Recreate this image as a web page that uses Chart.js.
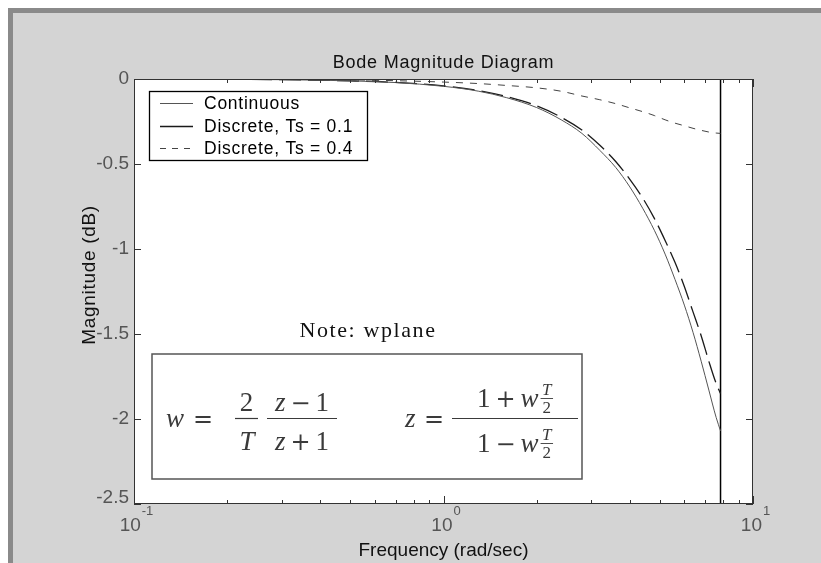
<!DOCTYPE html>
<html><head><meta charset="utf-8">
<script src="https://cdn.jsdelivr.net/npm/chart.js@4/dist/chart.umd.min.js"></script>
<style>html,body{margin:0;padding:0;background:#fff;overflow:hidden}canvas{display:block}</style>
</head><body>
<canvas id="c" width="821" height="563"></canvas>
<script>
// ---- data ----
const freq = [0.1, 0.2, 0.3, 0.5, 0.7, 1.0, 1.3, 1.6, 2.0, 2.4, 2.8, 3.2, 3.6, 4.0, 4.4, 4.8, 5.2, 5.6, 6.0, 6.4, 6.8, 7.2, 7.6, 7.854];
const magContinuous = [0, -0.002, -0.004, -0.011, -0.021, -0.043, -0.072, -0.11, -0.168, -0.24, -0.32, -0.42, -0.52, -0.635, -0.76, -0.89, -1.03, -1.18, -1.33, -1.49, -1.66, -1.83, -1.99, -2.07];
const magTs01 = [0, -0.002, -0.004, -0.011, -0.02, -0.041, -0.068, -0.104, -0.158, -0.225, -0.30, -0.39, -0.485, -0.59, -0.70, -0.82, -0.95, -1.08, -1.22, -1.37, -1.51, -1.66, -1.79, -1.85];
const magTs04 = [0, -0.001, -0.002, -0.005, -0.01, -0.018, -0.027, -0.038, -0.052, -0.072, -0.10, -0.122, -0.145, -0.17, -0.192, -0.215, -0.24, -0.26, -0.275, -0.29, -0.302, -0.312, -0.318, -0.32];
const nyquist = 7.854;
const seriesNames = ['Continuous', 'Discrete, Ts = 0.1', 'Discrete, Ts = 0.4'];
const yTicks = [0, -0.5, -1, -1.5, -2, -2.5];
const yTickLabels = ['0', '-0.5', '-1', '-1.5', '-2', '-2.5'];
const xMajor = [0.1, 1, 10];
const xMajorExp = ['-1', '0', '1'];
const titleText = 'Bode Magnitude Diagram';
const xTitle = 'Frequency (rad/sec)';
const yTitle = 'Magnitude (dB)';
const noteText = 'Note: wplane';

const SANS = '"Liberation Sans", Arial, Helvetica, sans-serif';
const SERIF = '"Liberation Serif", "Times New Roman", serif';
const OPS = '"DejaVu Serif", serif';

const pts = (ys) => freq.map((f, i) => ({x: f, y: ys[i]}));

// run: [text, kind] kind 0 upright, 1 italic, 2 operator; or [gapPx, 3]
function runFont(r, size) {
  if (r[1] === 1) return 'italic ' + size + 'px ' + SERIF;
  if (r[1] === 2) return Math.round(size * 0.88) + 'px ' + OPS;
  return size + 'px ' + SERIF;
}
function runsWidth(ctx, runs, size) {
  let t = 0;
  runs.forEach(r => { if (r[1] === 3) { t += r[0]; return; } ctx.font = runFont(r, size); t += ctx.measureText(r[0]).width; });
  return t;
}
function drawRuns(ctx, runs, x, y, size, align) {
  const total = runsWidth(ctx, runs, size);
  let sx = align === 'center' ? x - total / 2 : x;
  ctx.textAlign = 'left';
  runs.forEach(r => {
    if (r[1] === 3) { sx += r[0]; return; }
    ctx.font = runFont(r, size); ctx.fillText(r[0], sx, y); sx += ctx.measureText(r[0]).width;
  });
  return total;
}
function hbar(ctx, x1, x2, y, lw) { ctx.lineWidth = lw; ctx.beginPath(); ctx.moveTo(x1, y); ctx.lineTo(x2, y); ctx.stroke(); }
function spacing(ctx, v) { if ('letterSpacing' in ctx) ctx.letterSpacing = v; }

const pagePlugin = {
  id: 'page',
  beforeDraw(chart) {
    const ctx = chart.ctx, a = chart.chartArea;
    ctx.save();
    ctx.fillStyle = '#ffffff'; ctx.fillRect(0, 0, chart.width, chart.height);
    ctx.fillStyle = '#8a8a8a'; ctx.fillRect(8, 8, chart.width - 8, chart.height - 8);
    ctx.fillStyle = '#d4d4d4'; ctx.fillRect(13, 13, chart.width - 13, chart.height - 13);
    ctx.fillStyle = '#ffffff'; ctx.fillRect(a.left, a.top, a.right - a.left, a.bottom - a.top);
    ctx.restore();
  },
  afterDatasetsDraw(chart) {
    const ctx = chart.ctx, a = chart.chartArea, xs = chart.scales.x, ys = chart.scales.y;
    ctx.save();
    // frame
    ctx.strokeStyle = '#333'; ctx.lineWidth = 1;
    ctx.strokeRect(a.left + 0.5, a.top + 0.5, a.right - a.left - 1, a.bottom - a.top - 1);
    // ticks
    const xt = [];
    for (let d = -1; d <= 1; d++) {
      const base = Math.pow(10, d);
      xt.push([base, true]);
      if (d < 1) for (let m = 2; m <= 9; m++) xt.push([m * base, false]);
    }
    xt.forEach(([v, major]) => {
      const px = Math.round(xs.getPixelForValue(v)) + 0.5;
      const len = major ? 8 : 4;
      ctx.beginPath();
      ctx.moveTo(px, a.bottom); ctx.lineTo(px, a.bottom - len);
      ctx.moveTo(px, a.top); ctx.lineTo(px, a.top + len);
      ctx.stroke();
    });
    yTicks.forEach(v => {
      const py = Math.round(ys.getPixelForValue(v)) + 0.5;
      ctx.beginPath();
      ctx.moveTo(a.left, py); ctx.lineTo(a.left + 7, py);
      ctx.moveTo(a.right, py); ctx.lineTo(a.right - 7, py);
      ctx.stroke();
    });
    // y tick labels
    ctx.fillStyle = '#555'; ctx.font = '19px ' + SANS; ctx.textAlign = 'right'; ctx.textBaseline = 'middle';
    yTicks.forEach((v, i) => {
      let py = ys.getPixelForValue(v);
      if (i === yTicks.length - 1) py -= 6;
      ctx.fillText(yTickLabels[i], a.left - 5, py);
    });
    // x tick labels 10^n
    ctx.textBaseline = 'alphabetic';
    xMajor.forEach((v, i) => {
      const px = xs.getPixelForValue(v);
      ctx.font = '19px ' + SANS; const w1 = ctx.measureText('10').width;
      ctx.font = '13px ' + SANS; const w2 = ctx.measureText(xMajorExp[i]).width;
      const sx = px - (w1 + w2) / 2 + 2;
      ctx.textAlign = 'left';
      ctx.font = '19px ' + SANS; ctx.fillText('10', sx, 531);
      ctx.font = '13px ' + SANS; ctx.fillText(xMajorExp[i], sx + w1 + 1, 515);
    });
    // titles
    ctx.fillStyle = '#111'; ctx.textAlign = 'center';
    spacing(ctx, '0.8px');
    ctx.font = '18px ' + SANS; ctx.fillText(titleText, (a.left + a.right) / 2, 68);
    spacing(ctx, '0px');
    ctx.font = '19px ' + SANS; ctx.fillText(xTitle, (a.left + a.right) / 2, 556);
    ctx.save(); ctx.translate(90, 275); ctx.rotate(-Math.PI / 2);
    spacing(ctx, '0.7px');
    ctx.textBaseline = 'middle'; ctx.fillText(yTitle, 0, 0); ctx.restore();
    spacing(ctx, '0px');

    // legend
    const lx = 149.5, ly = 91.5, lw = 218, lh = 69;
    ctx.fillStyle = '#fff'; ctx.fillRect(lx, ly, lw, lh);
    ctx.strokeStyle = '#000'; ctx.lineWidth = 1.3; ctx.strokeRect(lx, ly, lw, lh);
    const rows = [103, 126, 148];
    chart.data.datasets.slice(0, 3).forEach((ds, i) => {
      ctx.strokeStyle = ds.borderColor; ctx.lineWidth = ds.borderWidth;
      ctx.setLineDash(ds.legendDash || []);
      ctx.beginPath(); ctx.moveTo(160, rows[i] + 0.5); ctx.lineTo(193, rows[i] + 0.5); ctx.stroke();
      ctx.setLineDash([]);
      ctx.fillStyle = '#000'; ctx.font = '17.5px ' + SANS; ctx.textAlign = 'left'; ctx.textBaseline = 'middle';
      spacing(ctx, '0.75px');
      ctx.fillText(ds.label, 204, rows[i] + 1);
      spacing(ctx, '0px');
    });

    // note + formula box
    ctx.textBaseline = 'alphabetic';
    ctx.fillStyle = '#111'; ctx.font = '22px ' + SERIF; ctx.textAlign = 'center';
    spacing(ctx, '1.6px');
    ctx.fillText(noteText, 368, 337);
    spacing(ctx, '0px');
    ctx.fillStyle = '#fff'; ctx.fillRect(152, 354, 430, 125);
    ctx.strokeStyle = '#555'; ctx.lineWidth = 1.5; ctx.strokeRect(152, 354, 430, 125);
    ctx.fillStyle = '#3a3a3a'; ctx.strokeStyle = '#3a3a3a';
    const S = 27;
    drawRuns(ctx, [['w', 1]], 166, 427, S, 'left');
    drawRuns(ctx, [['=', 2]], 193, 427, S, 'left');
    hbar(ctx, 235, 258, 418.5, 1.2);
    drawRuns(ctx, [['2', 0]], 246.5, 411, S, 'center');
    drawRuns(ctx, [['T', 1]], 247, 450, S, 'center');
    hbar(ctx, 267, 337, 418.5, 1.2);
    drawRuns(ctx, [['z', 1], [5, 3], ['\u2212', 2], [5, 3], ['1', 0]], 302, 411, S, 'center');
    drawRuns(ctx, [['z', 1], [5, 3], ['+', 2], [5, 3], ['1', 0]], 302, 450, S, 'center');
    drawRuns(ctx, [['z', 1]], 405, 427, S, 'left');
    drawRuns(ctx, [['=', 2]], 424, 427, S, 'left');
    hbar(ctx, 452, 578, 418.5, 1.2);
    const sm = 17;
    [[[['1', 0], [5, 3], ['+', 2], [5, 3], ['w', 1]], 407], [[['1', 0], [5, 3], ['\u2212', 2], [5, 3], ['w', 1]], 452]].forEach(([runs, base]) => {
      const w = runsWidth(ctx, runs, S);
      ctx.font = 'italic ' + sm + 'px ' + SERIF; const fw = ctx.measureText('T').width + 3;
      const sx = 515 - (w + fw + 2) / 2;
      drawRuns(ctx, runs, sx, base, S, 'left');
      const fx = sx + w + 2 + fw / 2;
      hbar(ctx, fx - fw / 2, fx + fw / 2, base - 8.5, 0.9);
      drawRuns(ctx, [['T', 1]], fx, base - 12, sm, 'center');
      drawRuns(ctx, [['2', 0]], fx, base + 6, sm, 'center');
    });
    ctx.restore();
  }
};

new Chart(document.getElementById('c'), {
  type: 'line',
  data: {
    datasets: [
      {label: seriesNames[0], data: pts(magContinuous), borderColor: '#555', borderWidth: 1, legendDash: []},
      {label: seriesNames[1], data: pts(magTs01), borderColor: '#1a1a1a', borderWidth: 1.3, borderDash: [22, 7], legendDash: []},
      {label: seriesNames[2], data: pts(magTs04), borderColor: '#444', borderWidth: 1, borderDash: [7, 7], legendDash: [6, 6]},
      {label: 'nyquist', data: [{x: nyquist, y: 0}, {x: nyquist, y: -2.5}], borderColor: '#000', borderWidth: 1.5}
    ]
  },
  options: {
    responsive: false, animation: false, devicePixelRatio: 1,
    layout: {padding: {left: 0, top: 79, right: 68, bottom: 0}},
    elements: {point: {radius: 0}, line: {tension: 0, cubicInterpolationMode: 'monotone', fill: false}},
    plugins: {legend: {display: false}, title: {display: false}, tooltip: {enabled: false}},
    scales: {
      x: {type: 'logarithmic', min: 0.1, max: 10, grid: {display: false, drawTicks: false}, border: {display: false},
          ticks: {display: false}, afterFit: s => { s.height = 59; }},
      y: {type: 'linear', min: -2.5, max: 0, grid: {display: false, drawTicks: false}, border: {display: false},
          ticks: {display: false, stepSize: 0.5}, afterFit: s => { s.width = 134; }}
    }
  },
  plugins: [pagePlugin]
});
</script>
</body></html>
